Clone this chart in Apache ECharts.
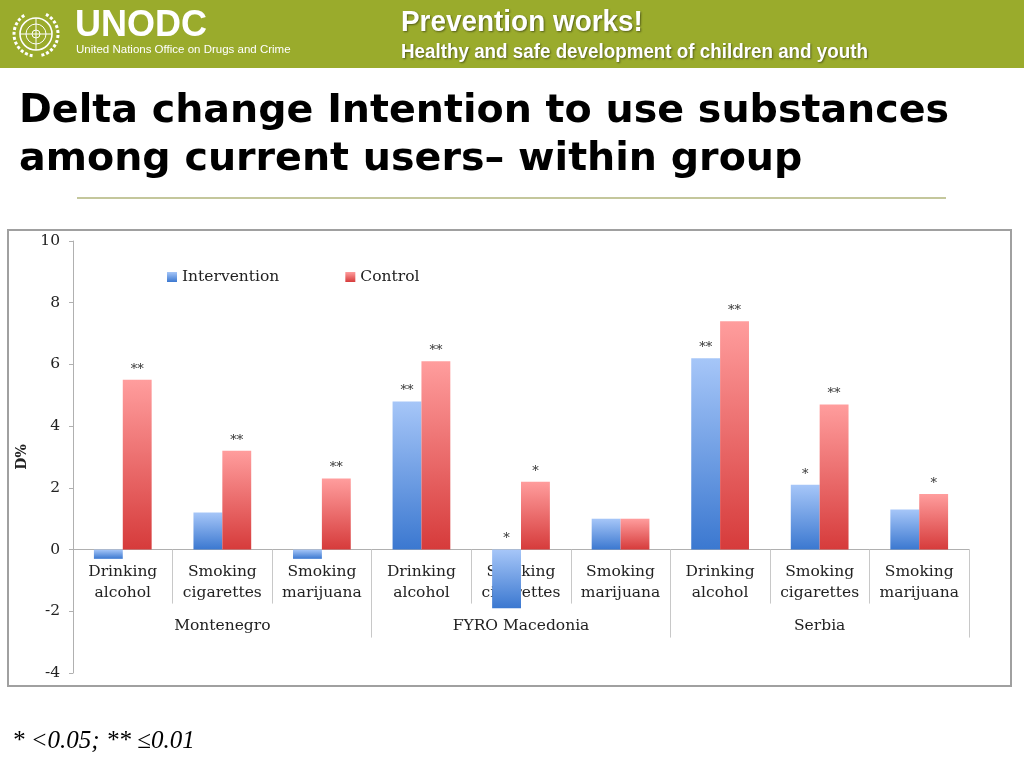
<!DOCTYPE html>
<html>
<head>
<meta charset="utf-8">
<style>
html,body{margin:0;padding:0;background:#fff;}
#chart{width:1024px;height:768px;}
</style>
<script src="https://cdn.jsdelivr.net/npm/echarts@6/dist/echarts.min.js"></script>
</head>
<body>
<div id="chart"></div>
<script>
const categories = ['Drinking\nalcohol','Smoking\ncigarettes','Smoking\nmarijuana',
                    'Drinking\nalcohol','Smoking\ncigarettes','Smoking\nmarijuana',
                    'Drinking\nalcohol','Smoking\ncigarettes','Smoking\nmarijuana'];
const groups = ['Montenegro','FYRO Macedonia','Serbia'];
const intervention = [-0.3, 1.2, -0.3, 4.8, -1.9, 1.0, 6.2, 2.1, 1.3];
const control      = [5.5, 3.2, 2.3, 6.1, 2.2, 1.0, 7.4, 4.7, 1.8];
const sigIntervention = ['', '', '', '**', '*', '', '**', '*', ''];
const sigControl      = ['**', '**', '**', '**', '*', '', '**', '**', '*'];
const yMin = -4, yMax = 10, yInterval = 2;

const serif = '"DejaVu Serif", "Liberation Serif", serif';
const chart = echarts.init(document.getElementById('chart'));

function grad(top, bottom){
  return new echarts.graphic.LinearGradient(0,0,0,1,[{offset:0,color:top},{offset:1,color:bottom}]);
}
// x axes sit on the zero line: distance from grid bottom to value 0 (grid height 432 px over 14 units)
const zeroOffset = -(0 - yMin) / (yMax - yMin) * 432;

const option = {
  animation:false,
  backgroundColor:'#fff',
  grid:{left:73,right:55,top:241,bottom:95,containLabel:false},
  legend:{
    data:['Intervention','Control'],
    left:162, top:264,
    itemWidth:10, itemHeight:10, itemGap:66,
    icon:'rect',
    textStyle:{fontFamily:serif,fontSize:15.5,color:'#222'}
  },
  xAxis:[{
    type:'category',
    data:categories,
    position:'bottom',
    offset:zeroOffset,
    axisLine:{onZero:false,lineStyle:{color:'#b0b0b0',width:1}},
    axisTick:{show:true,interval:0,length:54,lineStyle:{color:'#c8c8c8'}},
    axisLabel:{interval:0,margin:12,fontFamily:serif,fontSize:15.5,lineHeight:21,color:'#222'},
    splitLine:{show:false}
  },{
    type:'category',
    data:groups,
    position:'bottom',
    offset:zeroOffset,
    axisLine:{show:false,onZero:false},
    axisTick:{show:true,interval:0,length:88,lineStyle:{color:'#c8c8c8'}},
    axisLabel:{interval:0,margin:68,fontFamily:serif,fontSize:15.5,color:'#222'},
    splitLine:{show:false}
  }],
  yAxis:{
    type:'value',
    min:yMin,max:yMax,interval:yInterval,
    name:'D%',
    nameLocation:'middle',
    nameRotate:90,
    nameGap:29,
    nameTextStyle:{fontFamily:serif,fontSize:14,fontWeight:'bold',color:'#222'},
    z:3,
    axisLine:{show:true,lineStyle:{color:'#b0b0b0'}},
    axisTick:{show:true,length:4,lineStyle:{color:'#b0b0b0'}},
    axisLabel:{margin:13,fontFamily:serif,fontSize:15.5,color:'#222'},
    splitLine:{show:false}
  },
  series:[{
    name:'Intervention',
    type:'bar',
    data:intervention,
    barGap:'0%',
    barCategoryGap:'42%',
    itemStyle:{color:grad('#a6c6f8','#3b78d0')},
    label:{show:true,position:'top',distance:4,fontFamily:serif,fontSize:13,color:'#333',
      formatter:p=>sigIntervention[p.dataIndex]}
  },{
    name:'Control',
    type:'bar',
    data:control,
    barGap:'0%',
    barCategoryGap:'42%',
    itemStyle:{color:grad('#ff9d9d','#d63b3b')},
    label:{show:true,position:'top',distance:4,fontFamily:serif,fontSize:13,color:'#333',
      formatter:p=>sigControl[p.dataIndex]}
  }],
  graphic:[
    {type:'rect',shape:{x:0,y:0,width:1024,height:68},style:{fill:'#9aab2c'},z:-1},
    // UN emblem (simplified)
    {type:'circle',shape:{cx:36,cy:34,r:16},style:{fill:'none',stroke:'#fff',lineWidth:1.6}},
    {type:'circle',shape:{cx:36,cy:34,r:10},style:{fill:'none',stroke:'#fff',lineWidth:1}},
    {type:'circle',shape:{cx:36,cy:34,r:4},style:{fill:'none',stroke:'#fff',lineWidth:1}},
    {type:'line',shape:{x1:20,y1:34,x2:52,y2:34},style:{stroke:'#fff',lineWidth:1}},
    {type:'line',shape:{x1:36,y1:18,x2:36,y2:50},style:{stroke:'#fff',lineWidth:1}},
    {type:'arc',shape:{cx:36,cy:34,r:22,startAngle:Math.PI*0.55,endAngle:Math.PI*1.35},style:{fill:'none',stroke:'#fff',lineWidth:3,lineDash:[3,2]}},
    {type:'arc',shape:{cx:36,cy:34,r:22,startAngle:-Math.PI*0.35,endAngle:Math.PI*0.45},style:{fill:'none',stroke:'#fff',lineWidth:3,lineDash:[3,2]}},
    {type:'text',x:75,y:8,style:{text:'UNODC',fill:'#fff',font:'bold 36px "Liberation Sans", Arial, sans-serif'}},
    {type:'text',left:76,top:44,style:{text:'United Nations Office on Drugs and Crime',fill:'#fff',font:'11.5px "Liberation Sans", sans-serif'}},
    {type:'text',x:401,y:8,scaleX:0.93,style:{text:'Prevention works!',fill:'#fff',font:'bold 30px "Liberation Sans", sans-serif',
      textShadowColor:'rgba(0,0,0,0.45)',textShadowBlur:2,textShadowOffsetX:1,textShadowOffsetY:1}},
    {type:'text',x:401,y:42,scaleX:0.94,style:{text:'Healthy and safe development of children and youth',fill:'#fff',font:'bold 20px "Liberation Sans", sans-serif',
      textShadowColor:'rgba(0,0,0,0.45)',textShadowBlur:2,textShadowOffsetX:1,textShadowOffsetY:1}},
    {type:'text',left:19,top:88,style:{text:'Delta change Intention to use substances\namong current users\u2013 within group',fill:'#000',
      font:'bold 39.6px "DejaVu Sans", Verdana, sans-serif',lineHeight:48}},
    {type:'line',shape:{x1:77,y1:198,x2:946,y2:198},style:{stroke:'#c4c79c',lineWidth:2}},
    {type:'rect',shape:{x:8,y:230,width:1003,height:456},style:{fill:'none',stroke:'#a0a0a0',lineWidth:2}},
    {type:'text',left:12,top:729,style:{text:'* <0.05; ** \u22640.01',fill:'#000',font:'italic 25px "Liberation Serif", "Times New Roman", serif'}}
  ]
};
chart.setOption(option);
</script>
</body>
</html>
